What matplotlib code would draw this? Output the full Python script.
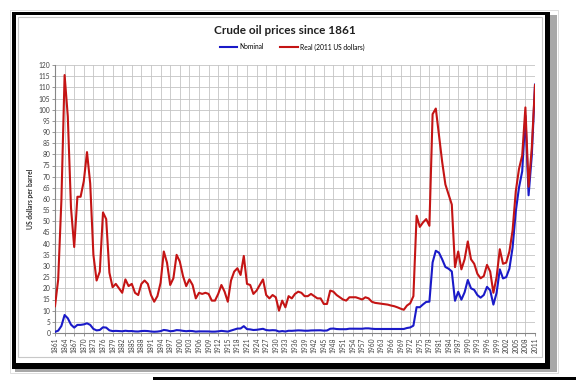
import numpy as np
import matplotlib
matplotlib.use('Agg')
import matplotlib.pyplot as plt
from matplotlib.patches import Rectangle

plt.rcParams['font.family'] = ['Lato', 'DejaVu Sans']

# 数据：1861-2011 原油价格（美元/桶）
years = list(range(1861, 2012))

nominal = [
    0.49, 1.05, 3.15, 8.06, 6.59, 3.74, 2.41, 3.63, 3.64, 3.86,   # 1861-1870
    4.34, 3.64, 1.83, 1.17, 1.35, 2.56, 2.42, 1.19, 0.86, 0.95,   # 1871-1880
    0.86, 0.78, 1.00, 0.84, 0.88, 0.71, 0.67, 0.88, 0.94, 0.87,   # 1881-1890
    0.67, 0.56, 0.64, 0.84, 1.36, 1.18, 0.79, 0.91, 1.29, 1.19,   # 1891-1900
    0.96, 0.80, 0.94, 0.86, 0.62, 0.73, 0.72, 0.72, 0.70, 0.61,   # 1901-1910
    0.61, 0.74, 0.95, 0.81, 0.64, 1.10, 1.56, 1.98, 2.01, 3.07,   # 1911-1920
    1.73, 1.61, 1.34, 1.43, 1.68, 1.88, 1.30, 1.17, 1.27, 1.19,   # 1921-1930
    0.65, 0.87, 0.67, 1.00, 0.97, 1.09, 1.18, 1.13, 1.02, 1.02,   # 1931-1940
    1.14, 1.19, 1.20, 1.21, 1.05, 1.12, 1.90, 1.99, 1.78, 1.71,   # 1941-1950
    1.71, 1.71, 1.93, 1.93, 1.93, 1.93, 1.90, 2.08, 2.08, 1.90,   # 1951-1960
    1.80, 1.80, 1.80, 1.80, 1.80, 1.80, 1.80, 1.80, 1.80, 1.80,   # 1961-1970
    2.24, 2.48, 3.29, 11.58, 11.53, 12.80, 13.92, 14.02, 31.61, 36.83,  # 1971-1980
    35.93, 32.97, 29.55, 28.78, 27.56, 14.43, 18.44, 14.92, 18.23, 23.73,  # 1981-1990
    20.00, 19.32, 16.97, 15.82, 17.02, 20.67, 19.09, 12.72, 17.97, 28.50,  # 1991-2000
    24.44, 25.02, 28.83, 38.27, 54.52, 65.14, 72.39, 97.26, 61.67, 79.50,  # 2001-2010
    111.26,                                                        # 2011
]

real = [
    12.0, 24.0, 59.5, 115.5, 97.0, 56.0, 38.5, 61.0, 61.0, 68.0,  # 1861-1870
    81.0, 67.0, 35.0, 23.5, 27.5, 54.0, 51.0, 27.0, 20.5, 22.0,   # 1871-1880
    20.0, 18.0, 24.0, 21.0, 22.0, 18.0, 17.0, 22.0, 23.5, 22.0,   # 1881-1890
    17.0, 14.0, 16.5, 22.5, 36.5, 31.5, 21.5, 24.5, 35.0, 32.0,   # 1891-1900
    25.5, 21.0, 24.0, 21.5, 15.5, 18.0, 17.5, 18.0, 17.5, 14.5,   # 1901-1910
    14.5, 17.5, 21.5, 18.5, 14.0, 23.5, 27.5, 29.0, 26.0, 34.5,   # 1911-1920
    22.0, 21.5, 17.5, 19.0, 21.5, 24.0, 17.0, 15.5, 17.0, 16.0,   # 1921-1930
    10.0, 14.5, 11.5, 16.5, 15.5, 17.5, 18.5, 18.0, 16.5, 16.5,   # 1931-1940
    17.5, 16.5, 15.5, 15.5, 13.0, 13.0, 19.0, 18.5, 17.0, 16.0,   # 1941-1950
    15.0, 14.5, 16.0, 16.0, 16.0, 15.5, 15.0, 16.0, 15.5, 14.0,   # 1951-1960
    13.5, 13.3, 13.1, 12.9, 12.7, 12.3, 12.0, 11.5, 10.9, 10.4,   # 1961-1970
    12.3, 13.3, 16.5, 52.5, 47.5, 49.5, 51.0, 48.0, 98.0, 100.5,  # 1971-1980
    88.5, 76.5, 66.5, 62.0, 57.5, 29.5, 36.5, 28.5, 33.0, 41.0,   # 1981-1990
    33.0, 31.0, 26.5, 24.5, 25.5, 30.5, 27.5, 18.0, 25.0, 37.5,   # 1991-2000
    31.0, 31.5, 36.5, 46.0, 63.5, 73.5, 79.5, 101.0, 65.5, 83.0,  # 2001-2010
    111.0,                                                         # 2011
]

W, H = 576, 380
fig = plt.figure(figsize=(W / 100, H / 100), dpi=100)
fig.patch.set_facecolor('white')


def px_rect(x0, y0, x1, y1, **kw):
    # 以像素坐标画外框
    fig.add_artist(Rectangle((x0 / W, 1 - y1 / H), (x1 - x0) / W, (y1 - y0) / H,
                             transform=fig.transFigure, **kw))


# 外框：阴影 + 黑边 + 白底 + 内部细线
px_rect(10, 10, 558, 373, facecolor='none', edgecolor='#d8d8d8', linewidth=0.6, zorder=-5)
px_rect(15, 15, 557, 372, facecolor='#a8a8a8', edgecolor='none', zorder=-4)
px_rect(12, 12, 550, 369, facecolor='black', edgecolor='none', zorder=-3)
px_rect(16, 15, 545, 363, facecolor='white', edgecolor='none', zorder=-2)
px_rect(18, 17, 542, 357, facecolor='none', edgecolor='#c8c8c8', linewidth=0.8, zorder=-1)
px_rect(153, 377, 576, 380, facecolor='black', edgecolor='none', zorder=-1)

ax = fig.add_axes([55 / W, 1 - 333 / H, 480 / W, 268 / H])
ax.set_zorder(1)
ax.set_facecolor('white')

ax.plot(years, nominal, color='#1a1ac8', linewidth=1.5, label='Nominal', zorder=3)
ax.plot(years, real, color='#c41414', linewidth=1.5, label='Real (2011 US dollars)', zorder=3)

ax.set_xlim(1861, 2011)
ax.set_ylim(0, 120)
ax.set_xticks(range(1861, 2012, 3))
ax.set_xticklabels([str(y) for y in range(1861, 2012, 3)], rotation=90, fontsize=4.8, color='#404040')
ax.set_yticks(range(0, 121, 5))
ax.set_yticklabels([str(v) for v in range(0, 121, 5)], fontsize=4.8, color='#404040')
ax.tick_params(axis='both', length=2, width=0.6, color='#868686', pad=1.5)

ax.grid(True, color='#c4c4c4', linewidth=0.6)
ax.set_axisbelow(True)
for s in ['top', 'right']:
    ax.spines[s].set_visible(False)
for s in ['left', 'bottom']:
    ax.spines[s].set_color('#868686')
    ax.spines[s].set_linewidth(0.8)

ax.set_ylabel('US dollars per barrel', fontsize=4.8, color='#303030', labelpad=3, fontweight='bold')

fig.text(285 / W, 1 - 30 / H, 'Crude oil prices since 1861', ha='center', va='center',
         fontsize=8.5, fontweight='bold', color='#202020')

ax.legend(loc='center', bbox_to_anchor=(292 / W, 1 - 47 / H), bbox_transform=fig.transFigure,
          ncol=2, frameon=False, fontsize=4.8, handlelength=2.6, handletextpad=0.3,
          columnspacing=2.5)

plt.savefig('out.png', dpi=100)
